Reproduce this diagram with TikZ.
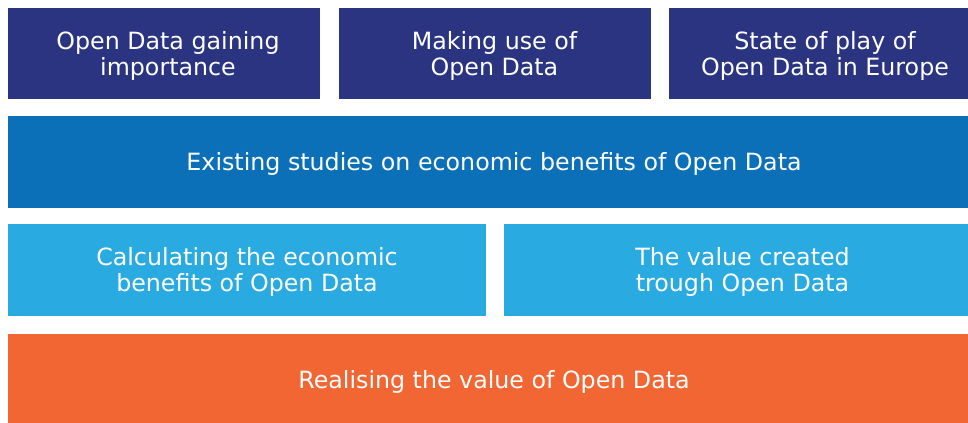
\documentclass[tikz,border=0pt]{standalone}
\usepackage{fontspec}
\setmainfont{DejaVu Sans}
\definecolor{navy}{HTML}{2B3481}
\definecolor{midblue}{HTML}{0B70B7}
\definecolor{lightblue}{HTML}{29AAE1}
\definecolor{orangebox}{HTML}{F26633}
\begin{document}
\begin{tikzpicture}[x=0.75pt,y=-0.75pt,
  boxlabel/.style={text=white,font=\fontsize{17.8}{19.5}\selectfont,align=center,inner sep=0pt,anchor=base}]
\useasboundingbox (0,0) rectangle (968,423);
\fill[navy] (8,8) rectangle (320,99);
\fill[navy] (339,8) rectangle (651,99);
\fill[navy] (669,8) rectangle (968,99);
\fill[midblue] (8,116) rectangle (968,208);
\fill[lightblue] (8,224) rectangle (486,316);
\fill[lightblue] (504,224) rectangle (968,316);
\fill[orangebox] (8,334) rectangle (968,423);
\node[boxlabel] (a) at (168,75.3) {Open Data gaining\\importance};
\node[boxlabel] (b) at (494.5,75.3) {Making use of\\Open Data};
\node[boxlabel] (c) at (825,75.3) {State of play of\\Open Data in Europe};
\node[boxlabel] (d) at (494,170.7) {Existing studies on economic benefits of Open Data};
\node[boxlabel] (e) at (247,292) {Calculating the economic\\benefits of Open Data};
\node[boxlabel] (f) at (742.5,292) {The value created\\trough Open Data};
\node[boxlabel] (g) at (494,388.5) {Realising the value of Open Data};
\end{tikzpicture}
\end{document}
